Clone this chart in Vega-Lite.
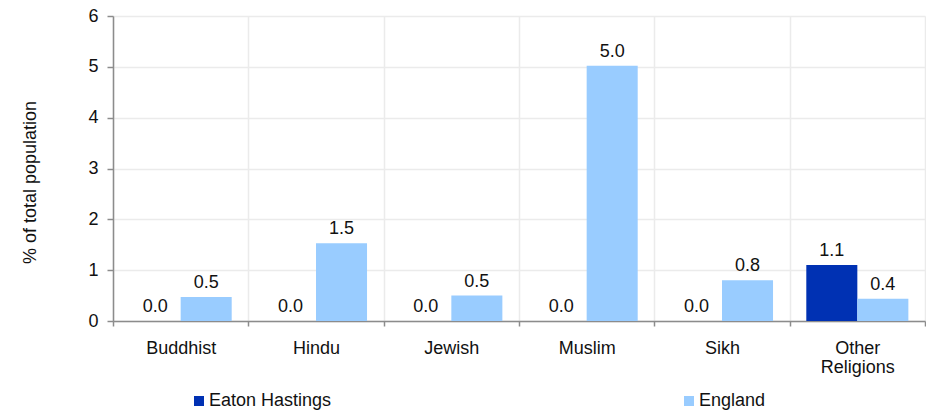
{
  "$schema": "https://vega.github.io/schema/vega-lite/v6.json",
  "width": 812,
  "height": 305,
  "autosize": {"type": "none"},
  "padding": {"left": 113, "top": 16, "right": 1, "bottom": 90},
  "background": "white",
  "config": {
    "view": {"stroke": null},
    "font": "Liberation Sans",
    "axis": {
      "labelFont": "Liberation Sans",
      "titleFont": "Liberation Sans",
      "labelFontSize": 18,
      "titleFontSize": 18,
      "labelColor": "#111111",
      "titleColor": "#111111",
      "titleFontWeight": "normal",
      "domainColor": "#8c8c8c",
      "tickColor": "#8c8c8c",
      "gridColor": "#ebebeb",
      "domainWidth": 1.5,
      "tickWidth": 1.5,
      "gridWidth": 1.5
    },
    "legend": {
      "labelFont": "Liberation Sans",
      "labelFontSize": 18,
      "labelColor": "#111111"
    }
  },
  "data": {
    "values": [
      {"religion": "Buddhist", "area": "Eaton Hastings", "value": 0.0},
      {"religion": "Buddhist", "area": "England", "value": 0.47},
      {"religion": "Hindu", "area": "Eaton Hastings", "value": 0.0},
      {"religion": "Hindu", "area": "England", "value": 1.53},
      {"religion": "Jewish", "area": "Eaton Hastings", "value": 0.0},
      {"religion": "Jewish", "area": "England", "value": 0.5},
      {"religion": "Muslim", "area": "Eaton Hastings", "value": 0.0},
      {"religion": "Muslim", "area": "England", "value": 5.02},
      {"religion": "Sikh", "area": "Eaton Hastings", "value": 0.0},
      {"religion": "Sikh", "area": "England", "value": 0.8},
      {"religion": "Other Religions", "area": "Eaton Hastings", "value": 1.1},
      {"religion": "Other Religions", "area": "England", "value": 0.44}
    ]
  },
  "encoding": {
    "x": {
      "field": "religion",
      "type": "nominal",
      "sort": ["Buddhist", "Hindu", "Jewish", "Muslim", "Sikh", "Other Religions"],
      "scale": {"paddingInner": 0, "paddingOuter": 0},
      "axis": {
        "title": null,
        "labelAngle": 0,
        "tickBand": "extent",
        "grid": true,
        "tickSize": 5,
        "labelPadding": 13,
        "labelLineHeight": 19,
        "labelExpr": "datum.value == 'Other Religions' ? ['Other', 'Religions'] : datum.value"
      }
    },
    "xOffset": {
      "field": "area",
      "type": "nominal",
      "sort": ["Eaton Hastings", "England"],
      "scale": {"paddingInner": 0, "paddingOuter": 0.326}
    },
    "y": {
      "field": "value",
      "type": "quantitative",
      "scale": {"domain": [0, 6], "nice": false},
      "axis": {
        "title": "% of total population",
        "values": [0, 1, 2, 3, 4, 5, 6],
        "grid": true,
        "tickSize": 6,
        "labelPadding": 9,
        "titleX": -83,
        "titleY": 166,
        "titleBaseline": "middle"
      }
    }
  },
  "layer": [
    {
      "mark": {"type": "bar"},
      "encoding": {
        "color": {
          "field": "area",
          "type": "nominal",
          "sort": ["Eaton Hastings", "England"],
          "scale": {"domain": ["Eaton Hastings", "England"], "range": ["#0031b3", "#99ccff"]},
          "legend": {
            "title": null,
            "orient": "none",
            "legendX": 77,
            "legendY": 376,
            "direction": "horizontal",
            "columns": 2,
            "columnPadding": 348,
            "symbolType": "square",
            "symbolSize": 100,
            "symbolStrokeWidth": 0,
            "labelOffset": 1
          }
        }
      }
    },
    {
      "mark": {"type": "text", "baseline": "bottom", "dy": -5, "fontSize": 18, "font": "Liberation Sans", "color": "#111111"},
      "encoding": {
        "text": {"field": "value", "type": "quantitative", "format": ".1f"}
      }
    }
  ]
}
